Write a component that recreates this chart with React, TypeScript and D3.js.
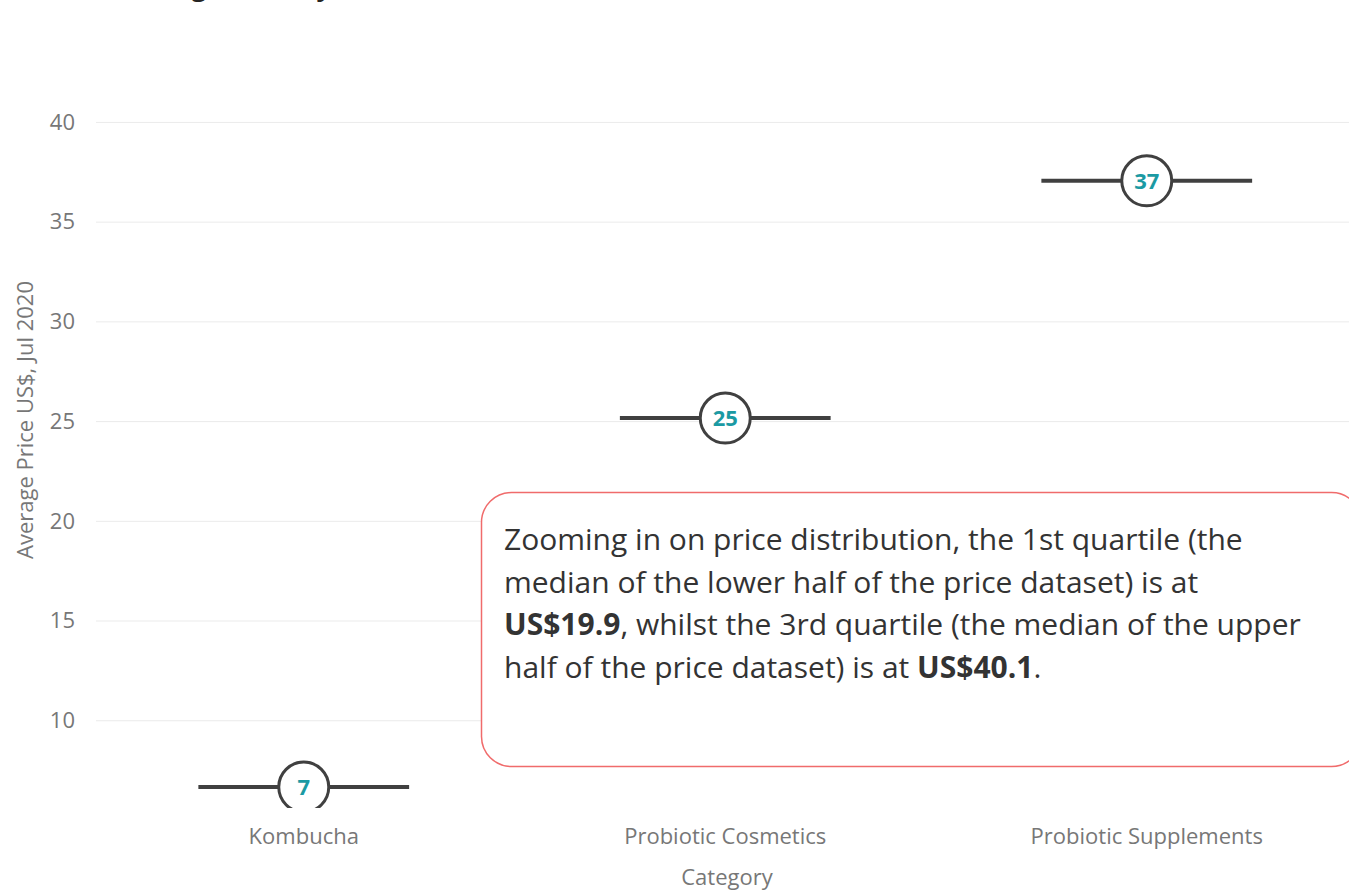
import React, { useRef, useEffect } from 'react';
import * as d3 from 'd3';

// chart data
const categories = ['Kombucha', 'Probiotic Cosmetics', 'Probiotic Supplements'];
const avgPrices = [6.65, 25.15, 37.05];
const priceLabels = ['7', '25', '37'];
const yTicks = [10, 15, 20, 25, 30, 35, 40];

const noteLines = [
  [{ t: 'Zooming in on price distribution, the 1st quartile (the', b: false }],
  [{ t: 'median of the lower half of the price dataset) is at', b: false }],
  [
    { t: 'US$19.9', b: true },
    { t: ', whilst the 3rd quartile (the median of the upper', b: false },
  ],
  [
    { t: 'half of the price dataset) is at ', b: false },
    { t: 'US$40.1', b: true },
    { t: '.', b: false },
  ],
];

const App = () => {
  const svgRef = useRef<SVGSVGElement>(null);
  const width = 1349;
  const height = 890;

  useEffect(() => {
    document.body.style.margin = '0';
    if (!svgRef.current) return;
    const svg = d3.select(svgRef.current);
    svg.selectAll('*').remove();

    const font = '"Open Sans", "Noto Sans", sans-serif';
    const plotLeft = 96;
    const plotTop = 102;
    const plotBottom = 808;

    const x = d3.scaleBand<string>()
      .domain(categories)
      .range([93, 1357.5])
      .padding(0);

    const y = d3.scaleLinear()
      .domain([5.6, 41])
      .range([plotBottom, plotTop]);

    // title (mostly scrolled off the top)
    svg.append('text')
      .attr('x', 116)
      .attr('y', -4)
      .attr('font-family', font)
      .attr('font-size', 26)
      .attr('font-weight', 700)
      .attr('fill', '#252423')
      .text('Average Price by');

    // grid lines
    svg.append('g')
      .attr('transform', `translate(${plotLeft},0)`)
      .call(d3.axisLeft(y).tickValues(yTicks).tickSize(-(width - plotLeft)).tickFormat(() => ''))
      .call(g => g.select('.domain').remove())
      .selectAll('line')
      .attr('stroke', '#ebebeb')
      .attr('stroke-width', 1);

    const axisText = (sel: any) =>
      sel.attr('font-family', font).attr('font-size', 22).attr('fill', '#777');

    // y tick labels
    svg.append('g')
      .selectAll('text')
      .data(yTicks)
      .enter()
      .append('text')
      .attr('x', 75)
      .attr('y', d => y(d))
      .attr('dy', '0.35em')
      .attr('text-anchor', 'end')
      .call(axisText)
      .text(d => d);

    // y axis title
    svg.append('text')
      .attr('transform', 'translate(33,420) rotate(-90)')
      .attr('text-anchor', 'middle')
      .call(axisText)
      .text('Average Price US$, Jul 2020');

    // x labels
    svg.append('g')
      .selectAll('text')
      .data(categories)
      .enter()
      .append('text')
      .attr('x', d => (x(d) as number) + x.bandwidth() / 2)
      .attr('y', 844)
      .attr('text-anchor', 'middle')
      .call(axisText)
      .text(d => d);

    svg.append('text')
      .attr('x', 727)
      .attr('y', 885)
      .attr('text-anchor', 'middle')
      .call(axisText)
      .text('Category');

    // clip for the marks
    svg.append('defs')
      .append('clipPath')
      .attr('id', 'plot-clip')
      .append('rect')
      .attr('x', 0)
      .attr('y', 0)
      .attr('width', width)
      .attr('height', plotBottom);

    const marks = svg.append('g').attr('clip-path', 'url(#plot-clip)');
    const half = x.bandwidth() * 0.25;

    const pts = categories.map((c, i) => ({
      c,
      v: avgPrices[i],
      label: priceLabels[i],
      cx: (x(c) as number) + x.bandwidth() / 2,
    }));

    marks.selectAll('.dash')
      .data(pts)
      .enter()
      .append('line')
      .attr('x1', d => d.cx - half)
      .attr('x2', d => d.cx + half)
      .attr('y1', d => y(d.v))
      .attr('y2', d => y(d.v))
      .attr('stroke', '#404040')
      .attr('stroke-width', 4);

    marks.selectAll('.dot')
      .data(pts)
      .enter()
      .append('circle')
      .attr('cx', d => d.cx)
      .attr('cy', d => y(d.v))
      .attr('r', 25)
      .attr('fill', '#fff')
      .attr('stroke', '#404040')
      .attr('stroke-width', 3);

    marks.selectAll('.lbl')
      .data(pts)
      .enter()
      .append('text')
      .attr('x', d => d.cx)
      .attr('y', d => Math.min(y(d.v), plotBottom - 20))
      .attr('dy', '0.36em')
      .attr('text-anchor', 'middle')
      .attr('font-family', font)
      .attr('font-size', 22)
      .attr('font-weight', 700)
      .attr('fill', '#1b9aa3')
      .text(d => d.label);

    // annotation box
    svg.append('rect')
      .attr('x', 481.5)
      .attr('y', 492.5)
      .attr('width', 880)
      .attr('height', 274)
      .attr('rx', 30)
      .attr('fill', '#fff')
      .attr('stroke', '#f06b6b')
      .attr('stroke-width', 1.5);

    const note = svg.append('text')
      .attr('font-family', font)
      .attr('font-size', 30)
      .attr('fill', '#333');

    noteLines.forEach((line, i) => {
      line.forEach((seg, j) => {
        const ts = note.append('tspan')
          .attr('font-weight', seg.b ? 700 : 400)
          .attr('xml:space', 'preserve')
          .text(seg.t);
        if (j === 0) ts.attr('x', 504).attr('y', 550 + i * 42.5);
      });
    });
  }, []);

  return <svg ref={svgRef} width={width} height={height} style={{ display: 'block', background: '#fff' }} />;
};

export default App;
